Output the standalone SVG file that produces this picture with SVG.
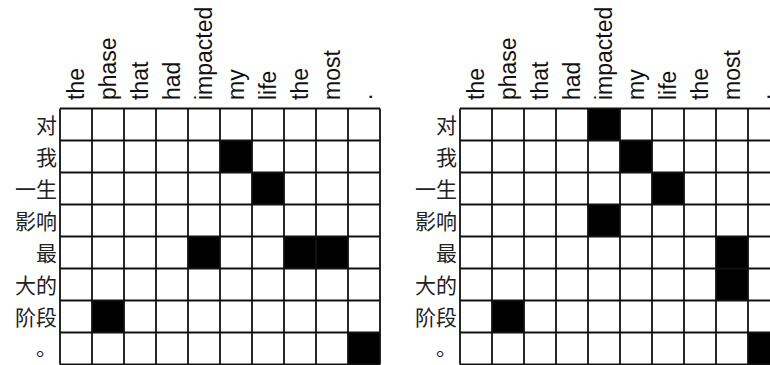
<svg xmlns="http://www.w3.org/2000/svg" width="770" height="365" viewBox="0 0 770 365">
<style>
.en{font-family:"Liberation Sans",Arial,sans-serif;font-size:23px;fill:#111}
.zh{font-family:"Noto Sans CJK SC","Liberation Sans",sans-serif;font-size:21px;fill:#222;text-anchor:end}
.grid{stroke:#111;stroke-width:1.8;fill:none}
.on{fill:#000}
</style>
<rect width="770" height="365" fill="#fff"/>
<g id="left-matrix">
  <g id="left-cols">
    <text class="en" transform="translate(84,100) rotate(-90)">the</text>
    <text class="en" transform="translate(116,100) rotate(-90)">phase</text>
    <text class="en" transform="translate(148,100) rotate(-90)">that</text>
    <text class="en" transform="translate(180,100) rotate(-90)">had</text>
    <text class="en" transform="translate(212,100) rotate(-90)">impacted</text>
    <text class="en" transform="translate(244,100) rotate(-90)">my</text>
    <text class="en" transform="translate(276,100) rotate(-90)">life</text>
    <text class="en" transform="translate(308,100) rotate(-90)">the</text>
    <text class="en" transform="translate(340,100) rotate(-90)">most</text>
    <text class="en" transform="translate(372,100) rotate(-90)">.</text>
  </g>
  <g id="left-rows">
    <text class="zh" x="57" y="133">对</text>
    <text class="zh" x="57" y="165">我</text>
    <text class="zh" x="57" y="197">一生</text>
    <text class="zh" x="57" y="229">影响</text>
    <text class="zh" x="57" y="261">最</text>
    <text class="zh" x="57" y="293">大的</text>
    <text class="zh" x="57" y="325">阶段</text>
    <text class="zh" x="57" y="355">。</text>
  </g>
  <g id="left-cells">
    <rect class="on" x="220" y="140.5" width="32" height="32"/>
    <rect class="on" x="252" y="172.5" width="32" height="32"/>
    <rect class="on" x="188" y="236.5" width="32" height="32"/>
    <rect class="on" x="284" y="236.5" width="64" height="32"/>
    <rect class="on" x="92" y="300.5" width="32" height="32"/>
    <rect class="on" x="348" y="332.5" width="32" height="32"/>
  </g>
  <path class="grid" d="M60 108.5V364.5M92 108.5V364.5M124 108.5V364.5M156 108.5V364.5M188 108.5V364.5M220 108.5V364.5M252 108.5V364.5M284 108.5V364.5M316 108.5V364.5M348 108.5V364.5M380 108.5V364.5M60 108.5H380M60 140.5H380M60 172.5H380M60 204.5H380M60 236.5H380M60 268.5H380M60 300.5H380M60 332.5H380M60 364.5H380"/>
</g>
<g id="right-matrix">
  <g id="right-cols">
    <text class="en" transform="translate(484,100) rotate(-90)">the</text>
    <text class="en" transform="translate(516,100) rotate(-90)">phase</text>
    <text class="en" transform="translate(548,100) rotate(-90)">that</text>
    <text class="en" transform="translate(580,100) rotate(-90)">had</text>
    <text class="en" transform="translate(612,100) rotate(-90)">impacted</text>
    <text class="en" transform="translate(644,100) rotate(-90)">my</text>
    <text class="en" transform="translate(676,100) rotate(-90)">life</text>
    <text class="en" transform="translate(708,100) rotate(-90)">the</text>
    <text class="en" transform="translate(740,100) rotate(-90)">most</text>
    <text class="en" transform="translate(770,100) rotate(-90)">.</text>
  </g>
  <g id="right-rows">
    <text class="zh" x="457" y="133">对</text>
    <text class="zh" x="457" y="165">我</text>
    <text class="zh" x="457" y="197">一生</text>
    <text class="zh" x="457" y="229">影响</text>
    <text class="zh" x="457" y="261">最</text>
    <text class="zh" x="457" y="293">大的</text>
    <text class="zh" x="457" y="325">阶段</text>
    <text class="zh" x="457" y="355">。</text>
  </g>
  <g id="right-cells">
    <rect class="on" x="588" y="108.5" width="32" height="32"/>
    <rect class="on" x="620" y="140.5" width="32" height="32"/>
    <rect class="on" x="652" y="172.5" width="32" height="32"/>
    <rect class="on" x="588" y="204.5" width="32" height="32"/>
    <rect class="on" x="716" y="236.5" width="32" height="64"/>
    <rect class="on" x="492" y="300.5" width="32" height="32"/>
    <rect class="on" x="748" y="332.5" width="32" height="32"/>
  </g>
  <path class="grid" d="M460 108.5V364.5M492 108.5V364.5M524 108.5V364.5M556 108.5V364.5M588 108.5V364.5M620 108.5V364.5M652 108.5V364.5M684 108.5V364.5M716 108.5V364.5M748 108.5V364.5M780 108.5V364.5M460 108.5H780M460 140.5H780M460 172.5H780M460 204.5H780M460 236.5H780M460 268.5H780M460 300.5H780M460 332.5H780M460 364.5H780"/>
</g>
</svg>
